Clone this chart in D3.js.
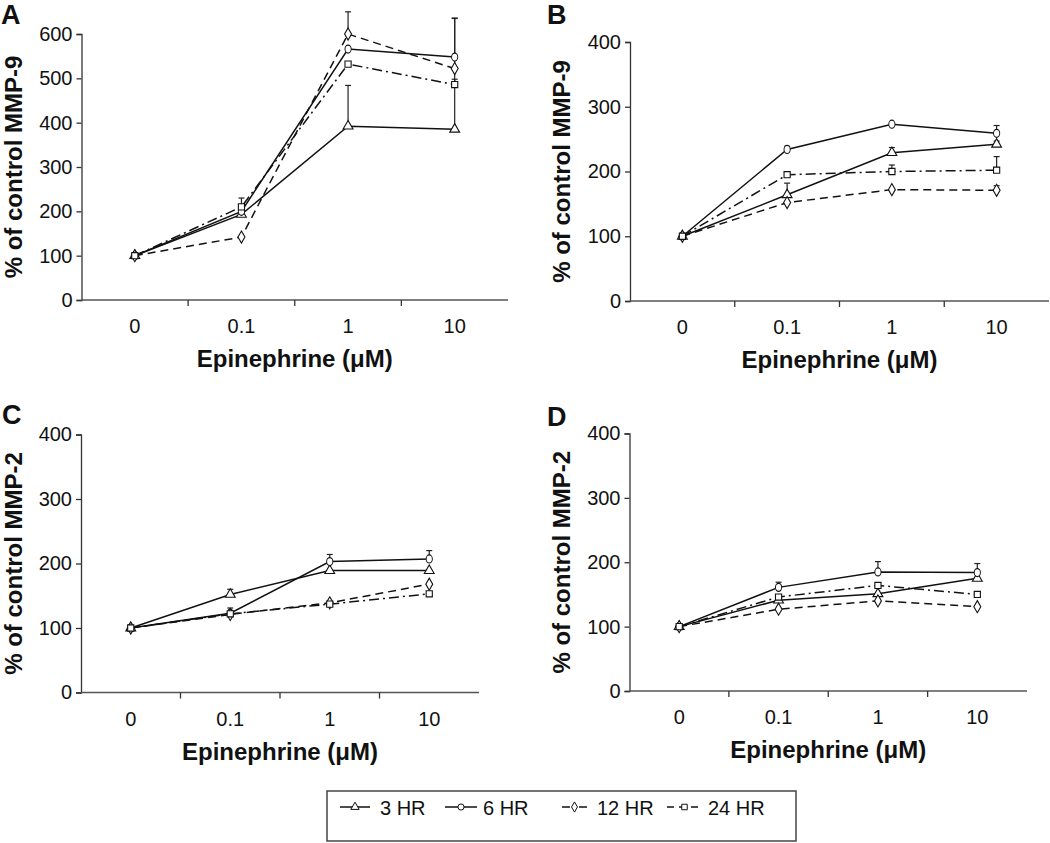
<!DOCTYPE html>
<html>
<head>
<meta charset="utf-8">
<script src="https://d3js.org/d3.v7.min.js"></script>
<style>
  body { margin: 0; background: #fff; }
  svg text { font-family: "Liberation Sans", Arial, sans-serif; fill: #111; }
</style>
</head>
<body>
<div id="chart"></div>
<script>
// Data
const doses = ["0", "0.1", "1", "10"];
const seriesNames = ["3 HR", "6 HR", "12 HR", "24 HR"];

// Panel A - MMP-9
const a3 = [100, 193, 392, 385];
const a6 = [100, 200, 566, 548];
const a12 = [100, 142, 600, 522];
const a24 = [100, 210, 532, 486];
const a3Err = [0, 0, 92, 250];
const a6Err = [0, 0, 0, 88];
const a12Err = [0, 0, 50, 0];
const a24Err = [0, 20, 0, 12];

// Panel B - MMP-9
const b3 = [100, 164, 229, 242];
const b6 = [100, 234, 273, 259];
const b12 = [100, 152, 172, 171];
const b24 = [100, 195, 200, 202];
const b3Err = [0, 18, 8, 5];
const b6Err = [0, 5, 0, 12];
const b12Err = [0, 0, 0, 7];
const b24Err = [0, 0, 10, 21];

// Panel C - MMP-2
const c3 = [100, 152, 189, 189];
const c6 = [100, 123, 203, 207];
const c12 = [100, 121, 139, 168];
const c24 = [100, 122, 137, 153];
const c3Err = [0, 8, 0, 0];
const c6Err = [0, 8, 11, 13];
const c12Err = [0, 0, 0, 0];
const c24Err = [0, 0, 0, 0];

// Panel D - MMP-2
const d3v = [100, 141, 151, 175];
const d6 = [100, 161, 185, 184];
const d12 = [100, 127, 140, 131];
const d24 = [100, 146, 164, 150];
const d3Err = [0, 0, 0, 0];
const d6Err = [0, 8, 16, 14];
const d12Err = [0, 0, 0, 0];
const d24Err = [0, 0, 0, 0];

const yTicksA = [0, 100, 200, 300, 400, 500, 600];
const yTicksB = [0, 100, 200, 300, 400];

const dashes = [null, null, "8,5", "10,4,2,4"];
const symbols = [d3.symbolTriangle, d3.symbolCircle, d3.symbolDiamond, d3.symbolSquare];

const panels = [
  { letter: "A", label: "% of control MMP-9", x0: 81.5, x1: 508, yTop: 34, yBot: 300, max: 600, ticks: yTicksA,
    vals: [a3, a6, a12, a24], errs: [a3Err, a6Err, a12Err, a24Err], lx: 1, ly: 24, labX: 13 },
  { letter: "B", label: "% of control MMP-9", x0: 630, x1: 1049, yTop: 42, yBot: 301, max: 400, ticks: yTicksB,
    vals: [b3, b6, b12, b24], errs: [b3Err, b6Err, b12Err, b24Err], lx: 547, ly: 24, labX: 561 },
  { letter: "C", label: "% of control MMP-2", x0: 81, x1: 479, yTop: 434.5, yBot: 692.5, max: 400, ticks: yTicksB,
    vals: [c3, c6, c12, c24], errs: [c3Err, c6Err, c12Err, c24Err], lx: 2, ly: 424, labX: 13 },
  { letter: "D", label: "% of control MMP-2", x0: 629.5, x1: 1027, yTop: 433.5, yBot: 691, max: 400, ticks: yTicksB,
    vals: [d3v, d6, d12, d24], errs: [d3Err, d6Err, d12Err, d24Err], lx: 547, ly: 426, labX: 561 }
];

const svg = d3.select("#chart").append("svg")
  .attr("width", 1050)
  .attr("height", 843);

function drawPanel(p) {
  const x = d3.scalePoint().domain(doses).range([p.x0, p.x1]).padding(0.5);
  const xBand = d3.scaleBand().domain(doses).range([p.x0, p.x1]);
  const y = d3.scaleLinear().domain([0, p.max]).range([p.yBot, p.yTop]);
  const g = svg.append("g");

  // y axis
  const yAxis = g.append("g")
    .attr("transform", `translate(${p.x0},0)`)
    .call(d3.axisLeft(y).tickValues(p.ticks).tickSize(5).tickPadding(4).tickFormat(d3.format("d")));
  yAxis.select(".domain").attr("stroke", "#333").attr("stroke-width", 1.3);
  yAxis.selectAll(".tick line").attr("stroke", "#333").attr("stroke-width", 1.3);
  yAxis.selectAll("text").attr("font-size", 20).attr("fill", "#111");

  // x axis: ticks at band boundaries, labels at band centres
  const xAxis = g.append("g")
    .attr("transform", `translate(0,${p.yBot})`);
  xAxis.append("line")
    .attr("x1", p.x0).attr("x2", p.x1)
    .attr("stroke", "#555").attr("stroke-width", 1.5);
  xAxis.selectAll(".xt").data(doses.slice(1)).enter().append("line")
    .attr("x1", d => xBand(d)).attr("x2", d => xBand(d))
    .attr("y1", 0).attr("y2", 6)
    .attr("stroke", "#333").attr("stroke-width", 1.3);
  xAxis.selectAll(".xl").data(doses).enter().append("text")
    .attr("x", d => x(d)).attr("y", 33)
    .attr("text-anchor", "middle")
    .attr("font-size", 20)
    .text(d => d);

  g.append("text")
    .attr("x", (p.x0 + p.x1) / 2)
    .attr("y", p.yBot + 67)
    .attr("text-anchor", "middle")
    .attr("font-size", 24).attr("font-weight", "bold")
    .text("Epinephrine (\u03BCM)");

  g.append("text")
    .attr("transform", `translate(${p.labX},${(p.yTop + p.yBot) / 2}) rotate(-90)`)
    .attr("text-anchor", "middle")
    .attr("dominant-baseline", "central")
    .attr("font-size", 24).attr("font-weight", "bold")
    .text(p.label);

  g.append("text")
    .attr("x", p.lx).attr("y", p.ly)
    .attr("font-size", 27).attr("font-weight", "bold")
    .text(p.letter);

  // error bars (upper only)
  p.vals.forEach((vals, si) => {
    vals.forEach((v, i) => {
      const e = p.errs[si][i];
      if (!e) return;
      const cx = x(doses[i]);
      g.append("line")
        .attr("x1", cx).attr("x2", cx)
        .attr("y1", y(v)).attr("y2", y(v + e))
        .attr("stroke", "#222").attr("stroke-width", 1.2);
      g.append("line")
        .attr("x1", cx - 3).attr("x2", cx + 3)
        .attr("y1", y(v + e)).attr("y2", y(v + e))
        .attr("stroke", "#222").attr("stroke-width", 1.2);
    });
  });

  // lines
  const line = d3.line().x((d, i) => x(doses[i])).y(d => y(d));
  p.vals.forEach((vals, si) => {
    g.append("path")
      .datum(vals)
      .attr("d", line)
      .attr("fill", "none")
      .attr("stroke", "#111")
      .attr("stroke-width", 1.5)
      .attr("stroke-dasharray", dashes[si]);
  });

  // markers
  p.vals.forEach((vals, si) => {
    g.selectAll(null).data(vals).enter().append("path")
      .attr("transform", (d, i) => `translate(${x(doses[i])},${y(d)})` + (si === 1 ? " scale(0.85,1.1)" : ""))
      .attr("d", d3.symbol().type(symbols[si]).size(si === 3 ? 38 : 42))
      .attr("fill", "#fff")
      .attr("stroke", "#111")
      .attr("stroke-width", 1.1);
  });
}

panels.forEach(drawPanel);

// Legend
const legend = svg.append("g");
legend.append("rect")
  .attr("x", 327).attr("y", 791)
  .attr("width", 469).attr("height", 50)
  .attr("fill", "#fff").attr("stroke", "#444").attr("stroke-width", 1.5);

const legendX = [340, 445, 562, 667];
const legendW = [30, 32, 25, 35];
const legendTextX = [380, 483, 597, 708];
seriesNames.forEach((name, si) => {
  const lx = legendX[si];
  legend.append("line")
    .attr("x1", lx).attr("x2", lx + legendW[si])
    .attr("y1", 807).attr("y2", 807)
    .attr("stroke", "#111").attr("stroke-width", 1.5)
    .attr("stroke-dasharray", si === 2 ? "8,9" : si === 3 ? "7,5" : null);
  legend.append("path")
    .attr("transform", `translate(${lx + legendW[si] / 2},807)`)
    .attr("d", d3.symbol().type(symbols[si]).size(30))
    .attr("fill", "#fff").attr("stroke", "#111").attr("stroke-width", 1);
  legend.append("text")
    .attr("x", legendTextX[si]).attr("y", 815)
    .attr("font-size", 20)
    .text(name);
});
</script>
</body>
</html>
